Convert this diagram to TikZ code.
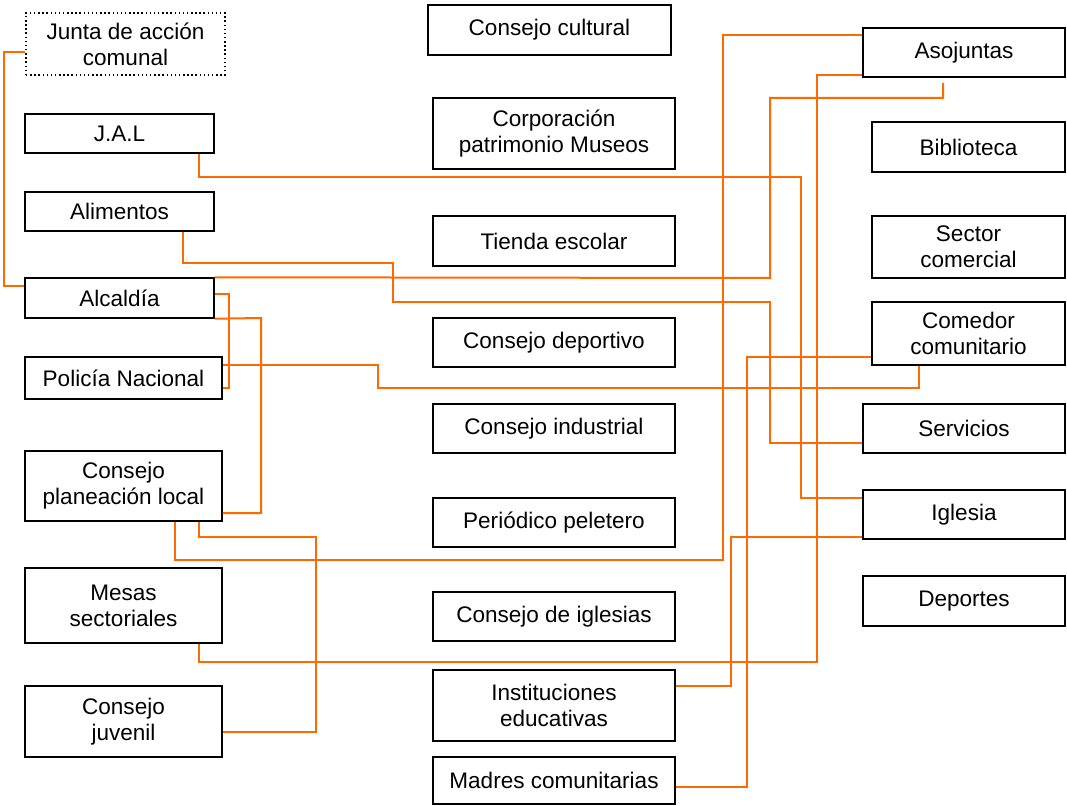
\documentclass[tikz,border=0pt]{standalone}
\usepackage{fontspec}
\setmainfont{Liberation Sans}
\definecolor{conorange}{RGB}{255,106,0}
\newcommand\Bx[7][]{\node[box,#1,minimum width=#5*0.75pt,minimum height=#6*0.75pt] (#2) at (#3,#4) {#7};}
\begin{document}
\begin{tikzpicture}[x=0.75pt,y=-0.75pt,
  box/.style={draw=black,line width=1.1pt,inner sep=0pt,align=center,
    font=\fontsize{16.9}{19.5}\selectfont,fill=white},
  con/.style={draw=conorange,line width=1.5pt}]
\useasboundingbox (0,0) rectangle (1067,806);
% left column
\Bx[dotted,line width=1pt]{junta}{125.5}{44}{199}{62}{Junta de acción\\comunal}
\Bx{jal}{119.5}{133.5}{189}{39}{J.A.L}
\Bx{alim}{119.5}{211.5}{189}{39}{Alimentos}
\Bx{alca}{119.5}{298}{189}{40}{Alcaldía}
\Bx{poli}{123.5}{378}{197}{42}{Policía Nacional}
\Bx{cpl}{123.5}{486}{197}{70}{Consejo\\planeación local}
\Bx{mesas}{123.5}{605.5}{197}{75}{Mesas\\sectoriales}
\Bx{cjuv}{123.5}{721.5}{197}{71}{Consejo\\juvenil}
% middle column
\Bx{ccul}{549.5}{30}{243}{50}{Consejo cultural}
\Bx{corp}{554}{133.5}{242}{71}{Corporación\\patrimonio Museos}
\Bx{tienda}{554}{241}{242}{50}{Tienda escolar}
\Bx{cdep}{554}{342.5}{242}{49}{Consejo deportivo}
\Bx{cind}{554}{428.5}{242}{49}{Consejo industrial}
\Bx{peri}{554}{522.5}{242}{49}{Periódico peletero}
\Bx{cigl}{554}{616.5}{242}{49}{Consejo de iglesias}
\Bx{inst}{554}{705.5}{242}{71}{Instituciones\\educativas}
\Bx{madres}{554}{780.5}{242}{47}{Madres comunitarias}
% right column
\Bx{asoj}{964}{52.5}{202}{49}{Asojuntas}
\Bx{bibl}{968.5}{147}{193}{50}{Biblioteca}
\Bx{sector}{968.5}{247}{193}{62}{Sector\\comercial}
\Bx{comedor}{968.5}{333.5}{193}{63}{Comedor\\comunitario}
\Bx{serv}{964}{428.5}{202}{49}{Servicios}
\Bx{igle}{964}{514.5}{202}{49}{Iglesia}
\Bx{dep}{964}{601}{202}{50}{Deportes}
\coordinate (asojend) at (943,83);
% connectors
\draw[con] (junta.west |- 0,52) -- (4,52) -- (4,286) -- (alca.west |- 0,286);
\draw[con] (jal.south -| 199,0) -- (199,177) -- (801,177) -- (801,498) -- (igle.west |- 0,498);
\draw[con] (alim.south -| 183,0) -- (183,263) -- (393,263) -- (393,302) -- (770,302) -- (770,443) -- (serv.west |- 0,443);
\draw[con] (alca.north east) -- (770,278) -- (770,98) -- (943,98) -- (asojend);
\draw[con] (alca.east |- 0,294) -- (229,294) -- (229,388) -- (poli.east |- 0,388);
\draw[con] (alca.south east) -- (261,318) -- (261,513) -- (cpl.east |- 0,513);
\draw[con] (poli.east |- 0,365) -- (378,365) -- (378,388) -- (919,388) -- (comedor.south -| 919,0);
\draw[con] (cpl.south -| 175,0) -- (175,560) -- (723,560) -- (723,35) -- (asoj.west |- 0,35);
\draw[con] (cpl.south -| 199,0) -- (199,537) -- (316,537) -- (316,732) -- (cjuv.east |- 0,732);
\draw[con] (mesas.south -| 199,0) -- (199,662) -- (817,662) -- (817,75) -- (asoj.west |- 0,75);
\draw[con] (inst.east |- 0,686) -- (731,686) -- (731,537) -- (igle.west |- 0,537);
\draw[con] (madres.east |- 0,787) -- (747,787) -- (747,357) -- (comedor.west |- 0,357);
\end{tikzpicture}
\end{document}
